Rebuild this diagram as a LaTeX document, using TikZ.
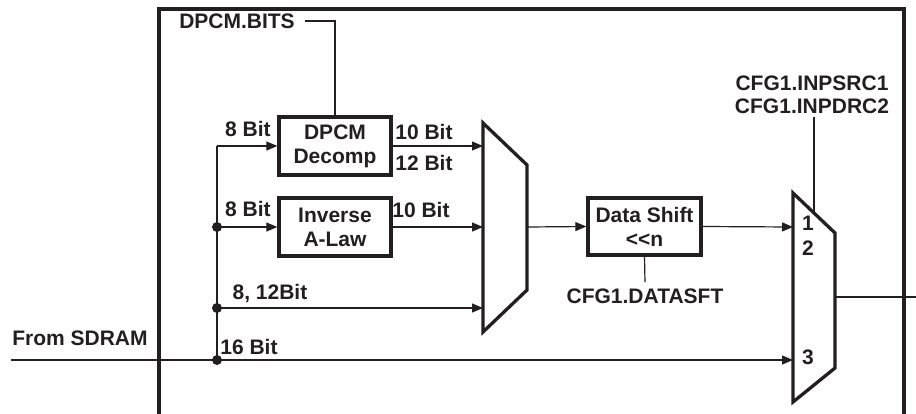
\documentclass[tikz,border=0pt]{standalone}
\usepackage{fontspec}
\setmainfont{Liberation Sans}
\usetikzlibrary{arrows.meta}
\definecolor{ink}{HTML}{231F20}
\begin{document}
\begin{tikzpicture}[x=1pt,y=-1pt,
  every node/.style={font=\fontsize{21}{24}\selectfont\bfseries, text=ink},
  blk/.style={draw=ink, line width=3.3pt, minimum width=112pt, minimum height=58pt, inner sep=0pt, align=center},
  thin/.style={draw=ink, line width=1.2pt},
  arr/.style={thin, -{Triangle[length=11pt,width=9pt]}},
  thick/.style={draw=ink, line width=3.3pt, line join=miter},
  dotc/.style={circle, fill=ink, inner sep=0pt, minimum size=10pt},
  lbl/.style={inner sep=0pt}]
\useasboundingbox (0,0) rectangle (916,413);
% frame
\draw[draw=ink, line width=3.5pt] (159,414) -- (159,9) -- (904,9) -- (904,414);
% blocks
\node[blk] (dpcm) at (335,146) {DPCM\\Decomp};
\node[blk] (alaw) at (335,227) {Inverse\\A-Law};
\node[blk, minimum width=113pt, minimum height=57pt] (ds) at (644.5,226.5) {Data Shift\\<{}<n};
% muxes
\draw[thick] (483,123) -- (527,165) -- (527,290) -- (483,332) -- cycle;
\draw[thick] (793,193) -- (835,233) -- (835,368) -- (793,402) -- cycle;
% coordinates
\coordinate (bustop) at (217,146);
\coordinate (busbot) at (217,360);
\node[dotc] (d1) at (217,227) {};
\node[dotc] (d2) at (217,308) {};
\node[dotc] (d3) at (217,360) {};
\coordinate (m1a) at (483,146);
\coordinate (m1b) at (483,227);
\coordinate (m1c) at (483,308);
\coordinate (m1o) at (527,227);
\coordinate (m2a) at (793,227);
\coordinate (m2c) at (793,360);
\coordinate (m2o) at (835,297);
\coordinate (outend) at (916,297);
\coordinate (src) at (11,360);
% labels
\node[lbl] (dbits) at (237,21) {DPCM.BITS};
\coordinate (dbl) at (305,21);
\coordinate (dbc) at (335,21);
\node[lbl, align=center, font=\fontsize{21}{23}\selectfont\bfseries] (cfg) at (812,95) {CFG1.INPSRC1\\CFG1.INPDRC2};
\coordinate (cfgb) at (814,117);
\coordinate (cfgm) at (814,212);
\node[lbl] (dsft) at (645,296) {CFG1.DATASFT};
\coordinate (dsb) at (645,282);
\node[lbl] at (248,129) {8 Bit};
\node[lbl] at (424,132) {10 Bit};
\node[lbl] at (424,163) {12 Bit};
\node[lbl] at (248,209) {8 Bit};
\node[lbl] at (421,210) {10 Bit};
\node[lbl] at (270,294) {8, 12Bit};
\node[lbl] at (249,347) {16 Bit};
\node[lbl] at (80,338) {From SDRAM};
\node[lbl] at (808,223) {1};
\node[lbl] at (808,248) {2};
\node[lbl] at (808,357) {3};
% connectors
\draw[thin] (dbl) -- (dbc) -- (dpcm.north);
\draw[thin] (bustop) -- (busbot);
\draw[arr] (bustop) -- (dpcm.west);
\draw[arr] (d1.center) -- (alaw.west);
\draw[arr] (dpcm.east) -- (m1a);
\draw[arr] (alaw.east) -- (m1b);
\draw[arr] (d2.center) -- (m1c);
\draw[arr] (src) -- (m2c);
\draw[arr] (m1o) -- (ds.west);
\draw[arr] (ds.east) -- (m2a);
\draw[thin] (ds.south) -- (dsb);
\draw[thin] (cfgb) -- (cfgm);
\draw[thin] (m2o) -- (outend);
\end{tikzpicture}
\end{document}
